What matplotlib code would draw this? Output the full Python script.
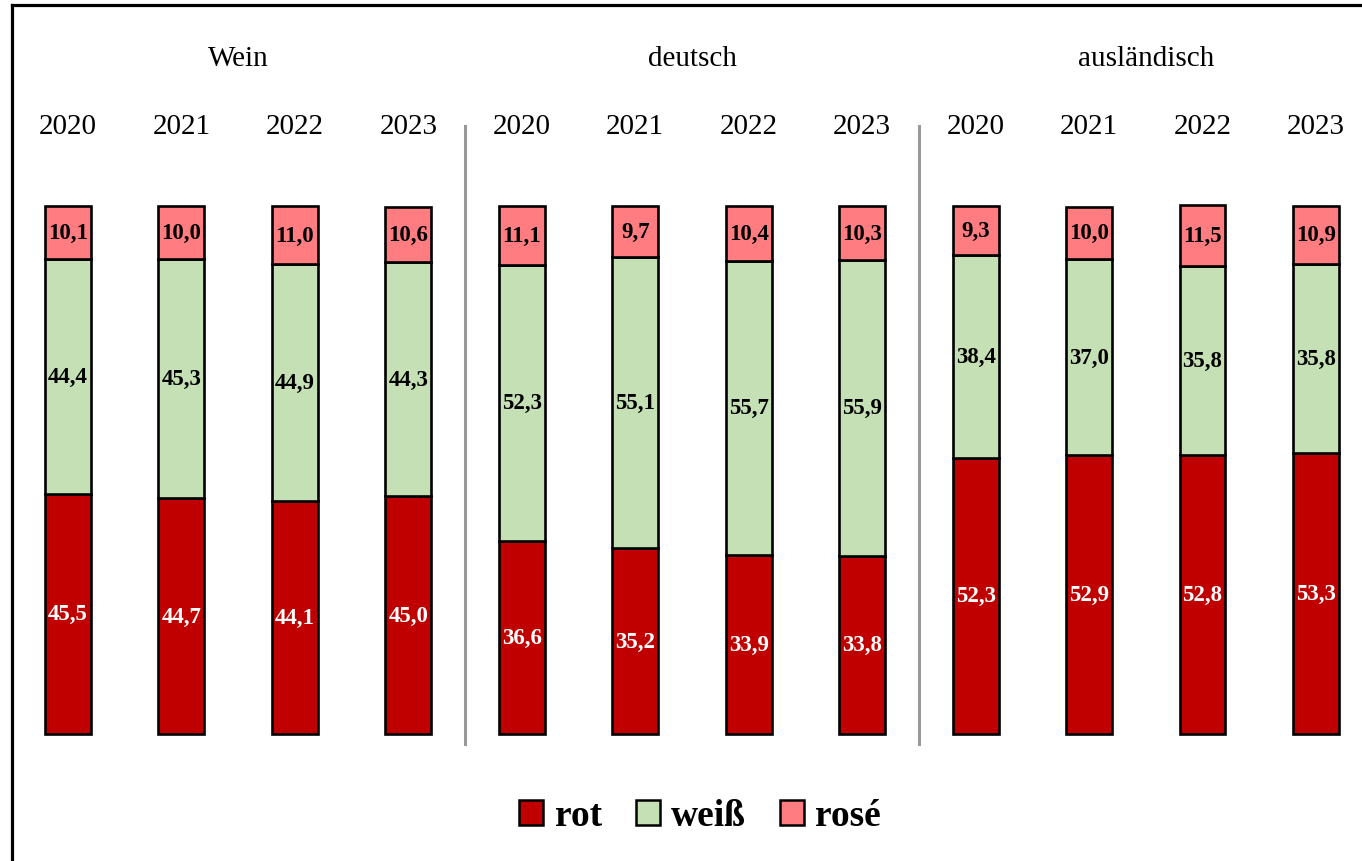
import matplotlib.pyplot as plt
from matplotlib.patches import Patch
from matplotlib.lines import Line2D
import numpy as np

plt.rcParams['font.family'] = ['Liberation Serif', 'DejaVu Serif']

groups = ['Wein', 'deutsch', 'ausländisch']
years = ['2020', '2021', '2022', '2023']

rot = [45.5, 44.7, 44.1, 45.0, 36.6, 35.2, 33.9, 33.8, 52.3, 52.9, 52.8, 53.3]
weiss = [44.4, 45.3, 44.9, 44.3, 52.3, 55.1, 55.7, 55.9, 38.4, 37.0, 35.8, 35.8]
rose = [10.1, 10.0, 11.0, 10.6, 11.1, 9.7, 10.4, 10.3, 9.3, 10.0, 11.5, 10.9]

c_rot = '#C00000'
c_weiss = '#C5E0B4'
c_rose = '#FF7C80'

fig = plt.figure(figsize=(13.62, 8.62), dpi=100)
ax = fig.add_axes([0, 0, 1, 1])

x = np.arange(len(rot))
w = 0.405
rot = np.array(rot)
weiss = np.array(weiss)
rose = np.array(rose)

ax.bar(x, rot, w, color=c_rot, edgecolor='black', linewidth=1.9)
ax.bar(x, weiss, w, bottom=rot, color=c_weiss, edgecolor='black', linewidth=1.9)
ax.bar(x, rose, w, bottom=rot + weiss, color=c_rose, edgecolor='black', linewidth=1.9)


def fmt(v):
    return f'{v:.1f}'.replace('.', ',')


for i in range(len(x)):
    ax.text(x[i], rot[i] / 2, fmt(rot[i]), ha='center', va='center',
            color='white', fontsize=16.5, fontweight='bold')
    ax.text(x[i], rot[i] + weiss[i] / 2, fmt(weiss[i]), ha='center', va='center',
            color='black', fontsize=16.5, fontweight='bold')
    ax.text(x[i], rot[i] + weiss[i] + rose[i] / 2, fmt(rose[i]), ha='center',
            va='center', color='black', fontsize=16.5, fontweight='bold')
    ax.text(x[i], 115.2, years[i % 4], ha='center', va='center', fontsize=21)

for g, name in enumerate(groups):
    ax.text(g * 4 + 1.5, 128.0, name, ha='center', va='center', fontsize=21)

for xd in [3.5, 7.5]:
    ax.plot([xd, xd], [-1.9, 115.2], color='#999999', linewidth=2.2)

ax.set_xlim(-0.5994, 11.406)
ax.set_ylim(-24.05, 139.2)
ax.axis('off')

# outer frame (top and left visible)
fig.add_artist(Line2D([12 / 1362, 12 / 1362], [0, 1 - 6 / 862], color='black',
                      linewidth=2.3, transform=fig.transFigure))
fig.add_artist(Line2D([12 / 1362, 1], [1 - 6 / 862, 1 - 6 / 862], color='black',
                      linewidth=2.3, transform=fig.transFigure))

handles = [Patch(facecolor=c_rot, edgecolor='black', linewidth=1.8, label='rot'),
           Patch(facecolor=c_weiss, edgecolor='black', linewidth=1.8, label='weiß'),
           Patch(facecolor=c_rose, edgecolor='black', linewidth=1.8, label='rosé')]
fig.legend(handles=handles, loc='center', bbox_to_anchor=(0.514, 1 - 817 / 862),
           ncol=3, frameon=False, handlelength=0.65, handleheight=0.65,
           handletextpad=0.3, columnspacing=0.9,
           prop={'size': 27, 'weight': 'bold'})

fig.savefig('out.png', dpi=100)
